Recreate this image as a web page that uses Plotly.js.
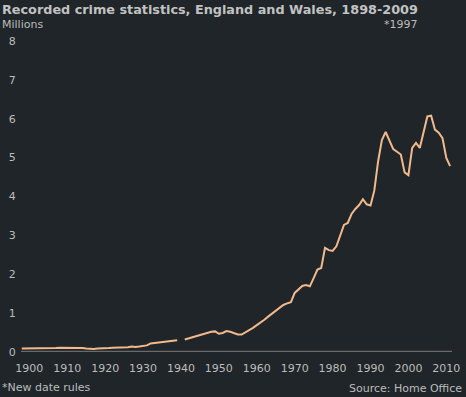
<!DOCTYPE html>
<html>
<head>
<meta charset="utf-8">
<script src="https://cdn.plot.ly/plotly-3.0.1.min.js"></script>
<style>html,body{margin:0;padding:0;background:#1f2528;}#chart{width:466px;height:397px;}</style>
</head>
<body>
<div id="chart"></div>
<script>
// Plot positions (one point per year slot, as drawn) and recorded crimes (millions)
const years = [];
for (let y = 1898; y <= 2011; y++) years.push(y);
const crimes = [
  0.09, 0.09, 0.09, 0.09, 0.09, 0.09, 0.10, 0.10, 0.10, 0.10, // 1898-1907
  0.11, 0.11, 0.11, 0.10, 0.11, 0.10, 0.10, 0.09, 0.08, 0.08, // 1908-1917
  0.09, 0.09, 0.10, 0.10, 0.11, 0.11, 0.11, 0.12, 0.12, 0.14, // 1918-1927
  0.13, 0.14, 0.15, 0.17, 0.22, 0.23, 0.24, 0.25, 0.26, 0.27, // 1928-1937
  0.28, 0.30, null, 0.32, 0.35, 0.38, 0.40, 0.44, 0.47, 0.49, // 1938-1947
  0.52, 0.53, 0.47, 0.49, 0.54, 0.52, 0.48, 0.45, 0.45, 0.50, // 1948-1957
  0.55, 0.62, 0.69, 0.75, 0.83, 0.91, 0.99, 1.07, 1.14, 1.21, // 1958-1967
  1.25, 1.28, 1.52, 1.60, 1.70, 1.72, 1.69, 1.90, 2.12, 2.16, // 1968-1977
  2.68, 2.62, 2.60, 2.72, 3.00, 3.27, 3.32, 3.55, 3.68, 3.78, // 1978-1987
  3.93, 3.80, 3.77, 4.15, 4.90, 5.45, 5.66, 5.45, 5.22, 5.15, // 1988-1997
  5.08, 4.62, 4.55, 5.25, 5.38, 5.25, 5.66, 6.06, 6.08, 5.72, // 1998-2007
  5.64, 5.50, 4.99, 4.78                                      // 2008-2011
];
const xTicks = [1900, 1910, 1920, 1930, 1940, 1950, 1960, 1970, 1980, 1990, 2000, 2010];
const yTicks = [0, 1, 2, 3, 4, 5, 6, 7, 8];

const txt = '#bcbcbc';
const font = 'DejaVu Sans, Verdana, sans-serif';

const trace = {
  x: years, y: crimes, type: 'scatter', mode: 'lines',
  line: {color: '#f2b98d', width: 2}, connectgaps: false, hoverinfo: 'skip'
};

const L = 21, R = 452, T = 41, B = 352.5;
const W = R - L, H = B - T;
const px = v => (v - L) / W;
const py = v => (B - v) / H;

const layout = {
  width: 466, height: 397,
  margin: {l: L, r: 466 - R, t: T, b: 397 - B, pad: 0},
  paper_bgcolor: '#1f2528', plot_bgcolor: '#1f2528',
  showlegend: false,
  font: {family: font, size: 11, color: txt},
  xaxis: {
    range: [1897.8, 2011.5], tickvals: xTicks, ticktext: xTicks.map(String),
    showgrid: false, zeroline: false, showline: false, ticks: 'outside', ticklen: 6, tickcolor: 'rgba(0,0,0,0)',
    tickfont: {family: font, size: 11, color: txt}, fixedrange: true
  },
  yaxis: {
    range: [0, 8], tickvals: yTicks, ticktext: yTicks.map(String),
    showgrid: false, zeroline: false, showline: false, ticks: 'outside', ticklen: 2, tickcolor: 'rgba(0,0,0,0)',
    tickfont: {family: font, size: 11, color: txt}, fixedrange: true
  },
  shapes: [{
    type: 'line', xref: 'paper', yref: 'y', x0: 0, x1: 1, y0: 0, y1: 0,
    line: {color: '#6a6a6a', width: 2.5}, layer: 'below'
  }],
  annotations: [
    {text: '<b>Recorded crime statistics, England and Wales, 1898-2009</b>', xref: 'paper', yref: 'paper',
     x: px(0), y: py(9), xanchor: 'left', yanchor: 'middle', showarrow: false,
     font: {family: font, size: 12.8, color: '#c2c2c2'}},
    {text: 'Millions', xref: 'paper', yref: 'paper', x: px(0), y: py(24.5), xanchor: 'left', yanchor: 'middle',
     showarrow: false, font: {family: font, size: 11, color: txt}},
    {text: '*1997', xref: 'paper', yref: 'paper', x: px(420), y: py(24.5), xanchor: 'right', yanchor: 'middle',
     showarrow: false, font: {family: font, size: 11, color: txt}},
    {text: '*New date rules', xref: 'paper', yref: 'paper', x: px(0), y: py(388.5), xanchor: 'left', yanchor: 'middle',
     showarrow: false, font: {family: font, size: 11, color: txt}},
    {text: 'Source: Home Office', xref: 'paper', yref: 'paper', x: px(464), y: py(389), xanchor: 'right', yanchor: 'middle',
     showarrow: false, font: {family: font, size: 11, color: txt}}
  ]
};

Plotly.newPlot('chart', [trace], layout, {staticPlot: true, displayModeBar: false});
</script>
</body>
</html>
